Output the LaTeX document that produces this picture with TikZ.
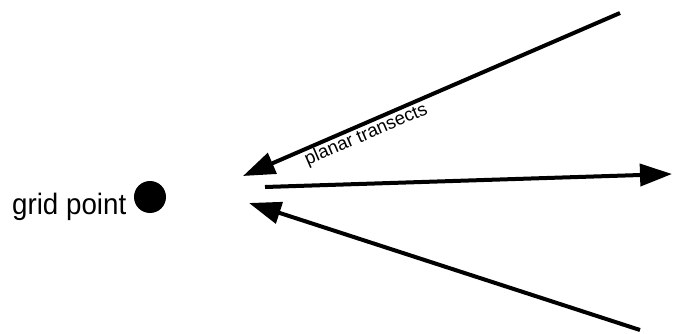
\documentclass[tikz,border=0pt]{standalone}
\usepackage{fontspec}
\setmainfont{Liberation Sans}
\usetikzlibrary{arrows.meta}
\tikzset{
  ray/.style={line width=4pt, -{Triangle[length=32pt,width=22pt]}},
  dot/.style={circle, fill=black, minimum size=32pt, inner sep=0pt},
  lbl/.style={font=\fontsize{18.5}{20}\selectfont, inner sep=2.5pt},
}
\begin{document}
\begin{tikzpicture}[x=1pt,y=1pt]
\useasboundingbox (0,0) rectangle (673,333);
\fill[white] (0,0) rectangle (673,333);
\node[dot] (gp) at (150,136) {};
\node[anchor=base west, inner sep=0pt, font=\fontsize{29.5}{31}\selectfont, xscale=0.94] (gptext) at (12,119) {grid point};
\coordinate (topend) at (620,320);
\coordinate (toptip) at (243,157);
\coordinate (midstart) at (265,146);
\coordinate (midtip) at (672,159);
\coordinate (botend) at (640,3);
\coordinate (bottip) at (249,130);
\draw[ray] (topend) -- (toptip);
\path (toptip) -- (topend) node[lbl, pos=0.315, sloped, below] (pt) {planar transects};
\draw[ray] (midstart) -- (midtip);
\draw[ray] (botend) -- (bottip);
\end{tikzpicture}
\end{document}
